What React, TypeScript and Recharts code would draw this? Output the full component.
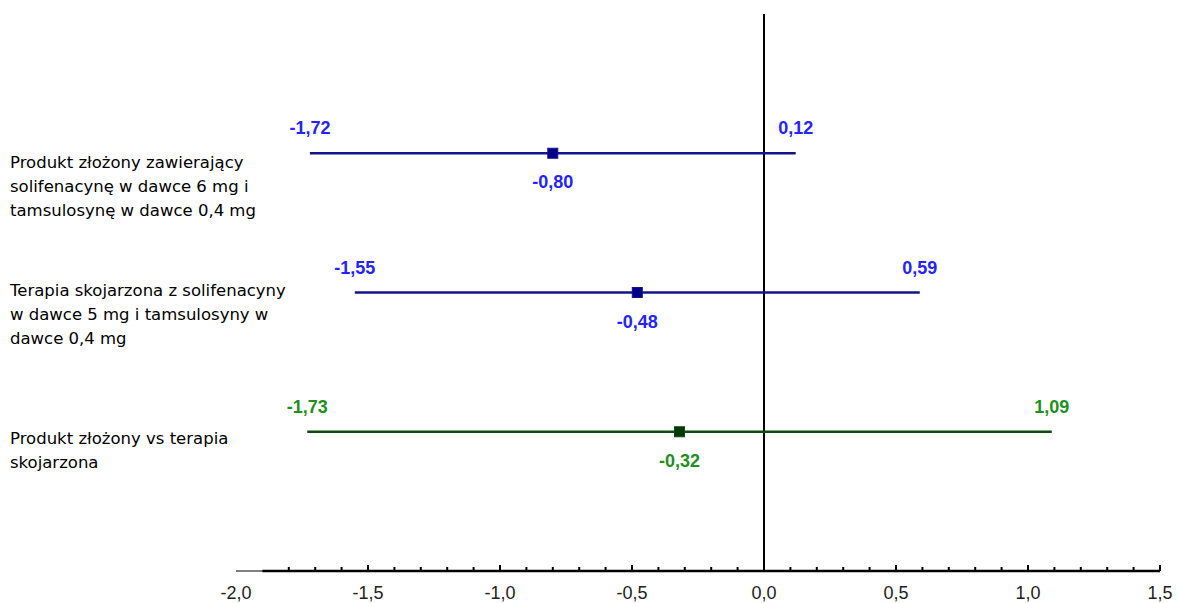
import React from 'react';
import { ComposedChart, Scatter, XAxis, YAxis, ReferenceLine } from 'recharts';

// rows of the forest plot, top to bottom
const rowLabels = [
  ['Produkt złożony zawierający', 'solifenacynę w dawce 6 mg i', 'tamsulosynę w dawce 0,4 mg'],
  ['Terapia skojarzona z solifenacyny', 'w dawce 5 mg i tamsulosyny w', 'dawce 0,4 mg'],
  ['Produkt złożony vs terapia', 'skojarzona'],
];
const rowPos = [1, 2, 3];
const estimates = [-0.8, -0.48, -0.32];
const lower = [-1.72, -1.55, -1.73];
const upper = [0.12, 0.59, 1.09];

const xTicks = [
  -2.0, -1.9, -1.8, -1.7, -1.6, -1.5, -1.4, -1.3, -1.2, -1.1, -1.0, -0.9, -0.8, -0.7, -0.6, -0.5, -0.4,
  -0.3, -0.2, -0.1, 0.0, 0.1, 0.2, 0.3, 0.4, 0.5, 0.6, 0.7, 0.8, 0.9, 1.0, 1.1, 1.2, 1.3, 1.4, 1.5,
];
const xLabelTicks = [-2.0, -1.5, -1.0, -0.5, 0.0, 0.5, 1.0, 1.5];

const lineColors = ['#14148a', '#14148a', '#0d4a0d'];
const markerColors = ['#00008b', '#00008b', '#003a00'];
const textColors = ['#2424ff', '#2424ff', '#1f8f1f'];
const labelOffsets = [10, -2, 7];

const fmt = (v: number) => v.toFixed(2).replace('.', ',');
const fmtTick = (v: number) => v.toFixed(1).replace('.', ',').replace('-0,0', '0,0');

const XTick = (props: any) => {
  const { x, y, payload } = props;
  const v = Math.round(payload.value * 10) / 10;
  const major = xLabelTicks.some((t) => Math.abs(t - v) < 1e-6);
  return (
    <g>
      {v > -1.85 && <line x1={x} x2={x} y1={y} y2={y - (major ? 6 : 4)} stroke="#000" strokeWidth={2} />}
      {major && (
        <text x={x} y={y + 28} textAnchor="middle" fontSize={18} fill="#222" fontFamily="Liberation Sans, Arial, sans-serif">
          {fmtTick(v)}
        </text>
      )}
    </g>
  );
};

const YTick = (props: any) => {
  const { y, payload } = props;
  const idx = rowPos.indexOf(payload.value);
  const lines = rowLabels[idx] ?? [];
  return (
    <g>
      {lines.map((l, i) => (
        <text key={i} x={10} y={y + labelOffsets[idx] + 5 + i * 24} fontSize={16.5} fill="#000" fontFamily="DejaVu Sans, Verdana, sans-serif">
          {l}
        </text>
      ))}
    </g>
  );
};

export default function App() {
  const rows = rowPos.map((pos, i) => ({
    pos,
    est: estimates[i],
    ends: [
      { x: lower[i], y: pos },
      { x: upper[i], y: pos },
    ],
  }));

  return (
    <div style={{ position: 'absolute', left: 0, top: 0, background: '#fff' }}>
      <ComposedChart width={1177} height={603} margin={{ top: 14, right: 17, bottom: 0, left: 0 }}>
        <XAxis
          type="number"
          dataKey="x"
          domain={[-2, 1.5]}
          ticks={xTicks}
          interval={0}
          tickSize={0}
          tickMargin={0}
          height={32}
          tick={<XTick />}
          axisLine={{ stroke: '#000', strokeWidth: 1 }}
          allowDataOverflow
        />
        <YAxis
          type="number"
          dataKey="y"
          domain={[0, 4]}
          reversed
          ticks={rowPos}
          width={236}
          tickSize={0}
          axisLine={false}
          tickLine={false}
          tick={<YTick />}
        />
        <ReferenceLine segment={[{ x: -1.9, y: 4 }, { x: 1.5, y: 4 }]} stroke="#000" strokeWidth={2.5} ifOverflow="visible" />
        <ReferenceLine x={0} stroke="#000" strokeWidth={2} />
        {rows.map((r, i) => (
          <Scatter
            key={`ci-${i}`}
            data={r.ends}
            isAnimationActive={false}
            line={{ stroke: lineColors[i], strokeWidth: 2.5 }}
            shape={(p: any) => (
              <text
                x={p.cx}
                y={p.cy - 19}
                textAnchor="middle"
                fontSize={18}
                fontWeight="bold"
                fill={textColors[i]}
                fontFamily="Liberation Sans, Arial, sans-serif"
              >
                {fmt(p.payload.x)}
              </text>
            )}
          />
        ))}
        {rows.map((r, i) => (
          <Scatter
            key={`est-${i}`}
            data={[{ x: r.est, y: r.pos }]}
            isAnimationActive={false}
            shape={(p: any) => (
              <g>
                <rect x={p.cx - 5} y={p.cy - 5} width={10} height={10} fill={markerColors[i]} stroke={lineColors[i]} />
                <text
                  x={p.cx}
                  y={p.cy + 35}
                  textAnchor="middle"
                  fontSize={18}
                  fontWeight="bold"
                  fill={textColors[i]}
                  fontFamily="Liberation Sans, Arial, sans-serif"
                >
                  {fmt(p.payload.x)}
                </text>
              </g>
            )}
          />
        ))}
      </ComposedChart>
    </div>
  );
}
